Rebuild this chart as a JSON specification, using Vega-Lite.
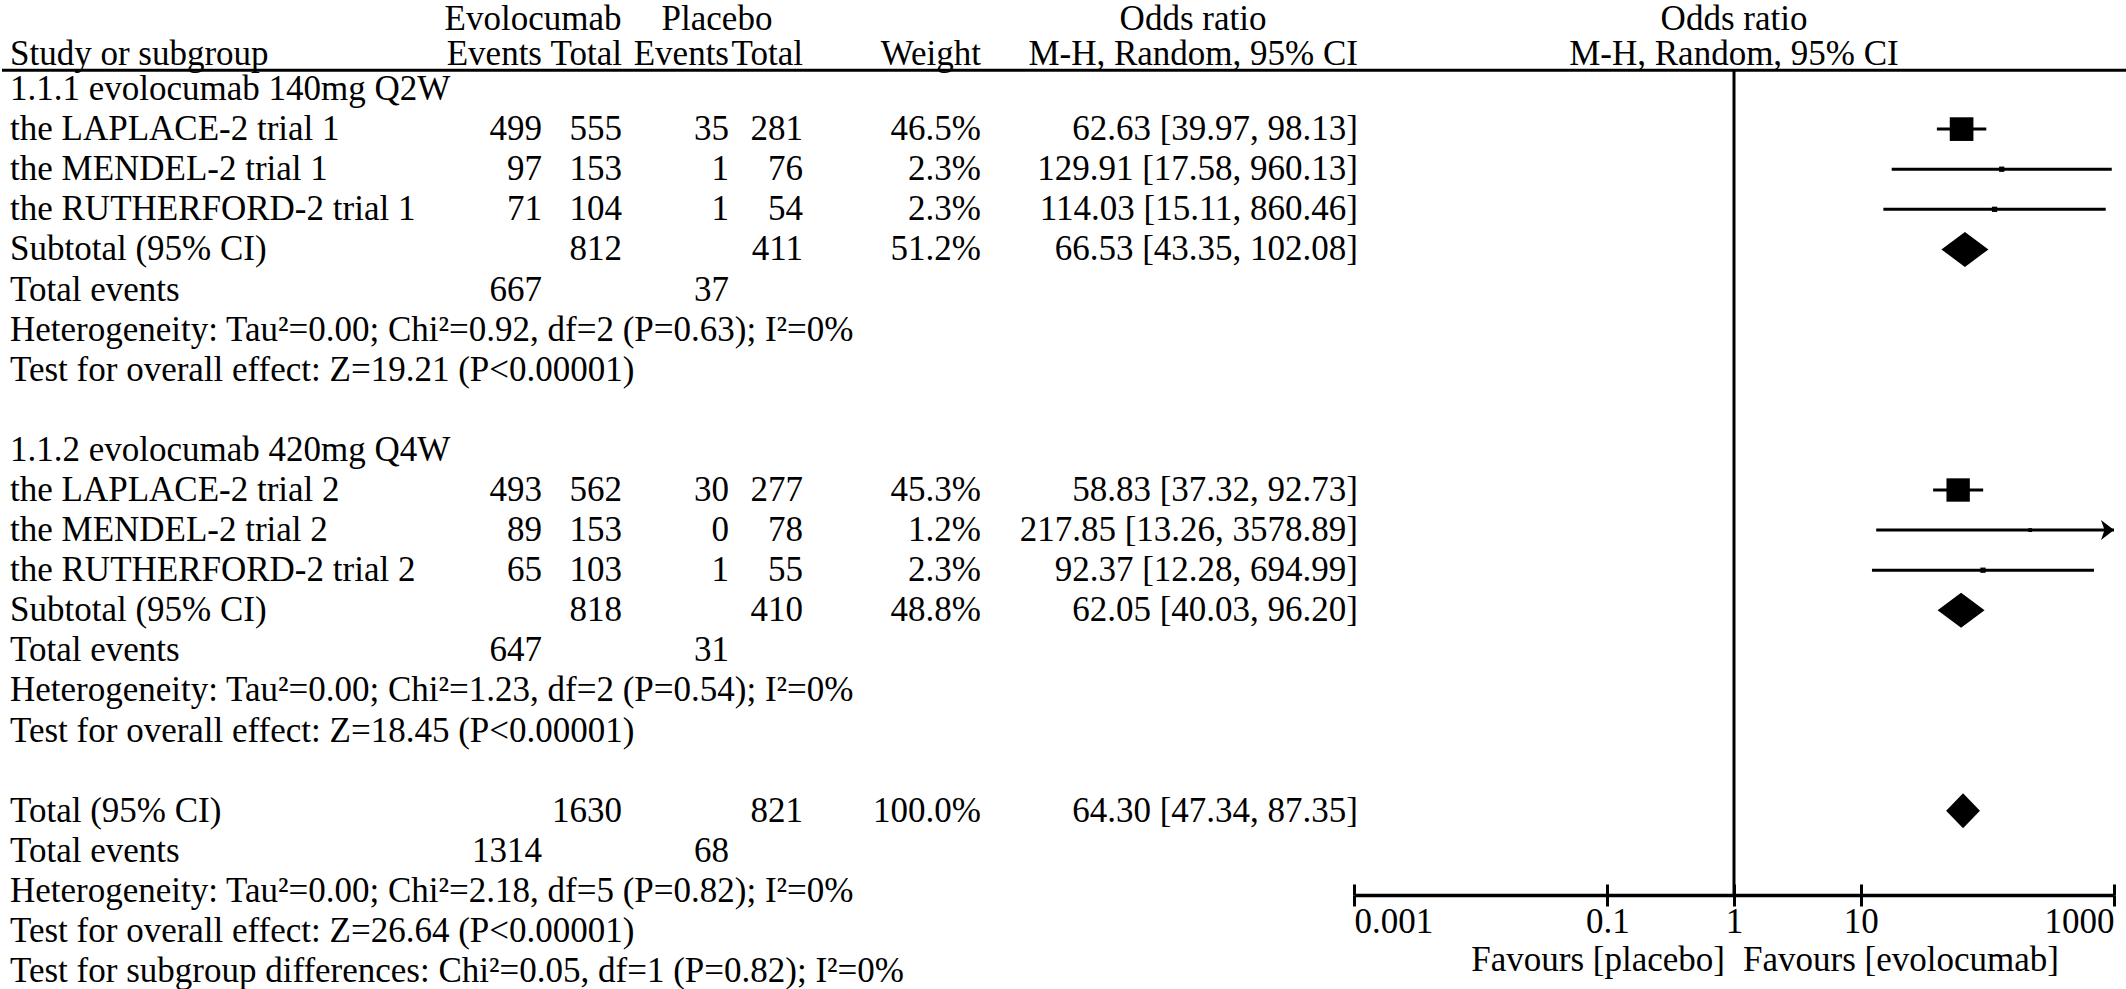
{
  "$schema": "https://vega.github.io/schema/vega-lite/v6.json",
  "width": 2126,
  "height": 895,
  "padding": 0,
  "autosize": {"type": "pad"},
  "background": "white",
  "config": {
    "view": {"stroke": null},
    "font": "Liberation Serif",
    "text": {"fontSize": 35, "color": "black", "baseline": "middle"},
    "axis": {"labelFontSize": 35, "titleFontSize": 35, "titleFontWeight": "normal", "labelColor": "black", "titleColor": "black", "tickColor": "black", "domainColor": "black", "grid": false}
  },
  "datasets": {
    "rows": [
      {"row": 0, "label": "1.1.1 evolocumab 140mg Q2W"},
      {"row": 1, "label": "the LAPLACE-2 trial 1", "ev1": 499, "tot1": 555, "ev2": 35, "tot2": 281, "w": 0.465, "ci": "62.63 [39.97, 98.13]", "or": 62.63, "lo": 39.97, "hi": 98.13, "kind": "study"},
      {"row": 2, "label": "the MENDEL-2 trial 1", "ev1": 97, "tot1": 153, "ev2": 1, "tot2": 76, "w": 0.023, "ci": "129.91 [17.58, 960.13]", "or": 129.91, "lo": 17.58, "hi": 960.13, "kind": "study"},
      {"row": 3, "label": "the RUTHERFORD-2 trial 1", "ev1": 71, "tot1": 104, "ev2": 1, "tot2": 54, "w": 0.023, "ci": "114.03 [15.11, 860.46]", "or": 114.03, "lo": 15.11, "hi": 860.46, "kind": "study"},
      {"row": 4, "label": "Subtotal (95% CI)", "tot1": 812, "tot2": 411, "w": 0.512, "ci": "66.53 [43.35, 102.08]", "or": 66.53, "lo": 43.35, "hi": 102.08, "kind": "subtotal"},
      {"row": 5, "label": "Total events", "ev1": 667, "ev2": 37},
      {"row": 6, "label": "Heterogeneity: Tau²=0.00; Chi²=0.92, df=2 (P=0.63); I²=0%"},
      {"row": 7, "label": "Test for overall effect: Z=19.21 (P<0.00001)"},
      {"row": 9, "label": "1.1.2 evolocumab 420mg Q4W"},
      {"row": 10, "label": "the LAPLACE-2 trial 2", "ev1": 493, "tot1": 562, "ev2": 30, "tot2": 277, "w": 0.453, "ci": "58.83 [37.32, 92.73]", "or": 58.83, "lo": 37.32, "hi": 92.73, "kind": "study"},
      {"row": 11, "label": "the MENDEL-2 trial 2", "ev1": 89, "tot1": 153, "ev2": 0, "tot2": 78, "w": 0.012, "ci": "217.85 [13.26, 3578.89]", "or": 217.85, "lo": 13.26, "hi": 3578.89, "kind": "study"},
      {"row": 12, "label": "the RUTHERFORD-2 trial 2", "ev1": 65, "tot1": 103, "ev2": 1, "tot2": 55, "w": 0.023, "ci": "92.37 [12.28, 694.99]", "or": 92.37, "lo": 12.28, "hi": 694.99, "kind": "study"},
      {"row": 13, "label": "Subtotal (95% CI)", "tot1": 818, "tot2": 410, "w": 0.488, "ci": "62.05 [40.03, 96.20]", "or": 62.05, "lo": 40.03, "hi": 96.20, "kind": "subtotal"},
      {"row": 14, "label": "Total events", "ev1": 647, "ev2": 31},
      {"row": 15, "label": "Heterogeneity: Tau²=0.00; Chi²=1.23, df=2 (P=0.54); I²=0%"},
      {"row": 16, "label": "Test for overall effect: Z=18.45 (P<0.00001)"},
      {"row": 18, "label": "Total (95% CI)", "tot1": 1630, "tot2": 821, "w": 1.0, "ci": "64.30 [47.34, 87.35]", "or": 64.30, "lo": 47.34, "hi": 87.35, "kind": "total"},
      {"row": 19, "label": "Total events", "ev1": 1314, "ev2": 68},
      {"row": 20, "label": "Heterogeneity: Tau²=0.00; Chi²=2.18, df=5 (P=0.82); I²=0%"},
      {"row": 21, "label": "Test for overall effect: Z=26.64 (P<0.00001)"},
      {"row": 22, "label": "Test for subgroup differences: Chi²=0.05, df=1 (P=0.82); I²=0%"}
    ],
    "headers": [
      {"row": -2, "text": "Evolocumab", "hcol": 2},
      {"row": -2, "text": "Placebo", "hcol": 5},
      {"row": -2, "text": "Odds ratio", "hcol": 9},
      {"row": -1, "text": "Study or subgroup", "hcol": 1},
      {"row": -1, "text": "Events", "hcol": 3},
      {"row": -1, "text": "Total", "hcol": 4},
      {"row": -1, "text": "Events", "hcol": 6},
      {"row": -1, "text": "Total", "hcol": 7},
      {"row": -1, "text": "Weight", "hcol": 8},
      {"row": -1, "text": "M-H, Random, 95% CI", "hcol": 10}
    ],
    "plotHeaders": [
      {"row": -2, "text": "Odds ratio"},
      {"row": -1, "text": "M-H, Random, 95% CI"}
    ],
    "favours": [
      {"side": "placebo", "text": "Favours [placebo]"},
      {"side": "evolocumab", "text": "Favours [evolocumab]"}
    ]
  },
  "resolve": {"scale": {"x": "independent"}},
  "layer": [
    {
      "layer": [
        {
          "data": {"name": "rows"},
          "mark": {"type": "text", "align": "left"},
          "encoding": {
            "x": {"datum": 1, "type": "quantitative", "scale": {"domain": [0,1,2,3,4,5,6,7,8,9,10,11], "range": [0,8,531,540,620,715,727,801,979,1191,1356,2126], "nice": false, "zero": false}, "axis": null},
            "y": {"field": "row", "type": "quantitative", "scale": {"domain": [-2.22, 20.1], "reverse": true, "nice": false, "zero": false}, "axis": null},
            "text": {"field": "label", "type": "nominal"}
          }
        },
        {
          "data": {"name": "rows"},
          "transform": [{"filter": "datum.ev1 != null"}],
          "mark": {"type": "text", "align": "right"},
          "encoding": {
            "x": {"datum": 3, "type": "quantitative", "scale": {"domain": [0,1,2,3,4,5,6,7,8,9,10,11], "range": [0,8,531,540,620,715,727,801,979,1191,1356,2126], "nice": false, "zero": false}, "axis": null},
            "y": {"field": "row", "type": "quantitative", "scale": {"domain": [-2.22, 20.1], "reverse": true, "nice": false, "zero": false}, "axis": null},
            "text": {"field": "ev1", "type": "quantitative", "format": "d"}
          }
        },
        {
          "data": {"name": "rows"},
          "transform": [{"filter": "datum.tot1 != null"}],
          "mark": {"type": "text", "align": "right"},
          "encoding": {
            "x": {"datum": 4, "type": "quantitative", "scale": {"domain": [0,1,2,3,4,5,6,7,8,9,10,11], "range": [0,8,531,540,620,715,727,801,979,1191,1356,2126], "nice": false, "zero": false}, "axis": null},
            "y": {"field": "row", "type": "quantitative", "scale": {"domain": [-2.22, 20.1], "reverse": true, "nice": false, "zero": false}, "axis": null},
            "text": {"field": "tot1", "type": "quantitative", "format": "d"}
          }
        },
        {
          "data": {"name": "rows"},
          "transform": [{"filter": "datum.ev2 != null"}],
          "mark": {"type": "text", "align": "right"},
          "encoding": {
            "x": {"datum": 6, "type": "quantitative", "scale": {"domain": [0,1,2,3,4,5,6,7,8,9,10,11], "range": [0,8,531,540,620,715,727,801,979,1191,1356,2126], "nice": false, "zero": false}, "axis": null},
            "y": {"field": "row", "type": "quantitative", "scale": {"domain": [-2.22, 20.1], "reverse": true, "nice": false, "zero": false}, "axis": null},
            "text": {"field": "ev2", "type": "quantitative", "format": "d"}
          }
        },
        {
          "data": {"name": "rows"},
          "transform": [{"filter": "datum.tot2 != null"}],
          "mark": {"type": "text", "align": "right"},
          "encoding": {
            "x": {"datum": 7, "type": "quantitative", "scale": {"domain": [0,1,2,3,4,5,6,7,8,9,10,11], "range": [0,8,531,540,620,715,727,801,979,1191,1356,2126], "nice": false, "zero": false}, "axis": null},
            "y": {"field": "row", "type": "quantitative", "scale": {"domain": [-2.22, 20.1], "reverse": true, "nice": false, "zero": false}, "axis": null},
            "text": {"field": "tot2", "type": "quantitative", "format": "d"}
          }
        },
        {
          "data": {"name": "rows"},
          "transform": [{"filter": "datum.w != null"}],
          "mark": {"type": "text", "align": "right"},
          "encoding": {
            "x": {"datum": 8, "type": "quantitative", "scale": {"domain": [0,1,2,3,4,5,6,7,8,9,10,11], "range": [0,8,531,540,620,715,727,801,979,1191,1356,2126], "nice": false, "zero": false}, "axis": null},
            "y": {"field": "row", "type": "quantitative", "scale": {"domain": [-2.22, 20.1], "reverse": true, "nice": false, "zero": false}, "axis": null},
            "text": {"field": "w", "type": "quantitative", "format": ".1%"}
          }
        },
        {
          "data": {"name": "rows"},
          "transform": [{"filter": "datum.ci != null"}],
          "mark": {"type": "text", "align": "right"},
          "encoding": {
            "x": {"datum": 10, "type": "quantitative", "scale": {"domain": [0,1,2,3,4,5,6,7,8,9,10,11], "range": [0,8,531,540,620,715,727,801,979,1191,1356,2126], "nice": false, "zero": false}, "axis": null},
            "y": {"field": "row", "type": "quantitative", "scale": {"domain": [-2.22, 20.1], "reverse": true, "nice": false, "zero": false}, "axis": null},
            "text": {"field": "ci", "type": "nominal"}
          }
        },
        {
          "data": {"name": "headers"},
          "transform": [{"filter": "datum.hcol == 1"}],
          "mark": {"type": "text", "align": "left", "dy": 5},
          "encoding": {
            "x": {"field": "hcol", "type": "quantitative", "scale": {"domain": [0,1,2,3,4,5,6,7,8,9,10,11], "range": [0,8,531,540,620,715,727,801,979,1191,1356,2126], "nice": false, "zero": false}, "axis": null},
            "y": {"field": "row", "type": "quantitative", "scale": {"domain": [-2.22, 20.1], "reverse": true, "nice": false, "zero": false}, "axis": null},
            "text": {"field": "text", "type": "nominal"}
          }
        },
        {
          "data": {"name": "headers"},
          "transform": [{"filter": "datum.hcol == 2 || datum.hcol == 5 || datum.hcol == 9"}],
          "mark": {"type": "text", "align": "center", "dy": 10},
          "encoding": {
            "x": {"field": "hcol", "type": "quantitative", "scale": {"domain": [0,1,2,3,4,5,6,7,8,9,10,11], "range": [0,8,531,540,620,715,727,801,979,1191,1356,2126], "nice": false, "zero": false}, "axis": null},
            "y": {"field": "row", "type": "quantitative", "scale": {"domain": [-2.22, 20.1], "reverse": true, "nice": false, "zero": false}, "axis": null},
            "text": {"field": "text", "type": "nominal"}
          }
        },
        {
          "data": {"name": "headers"},
          "transform": [{"filter": "datum.hcol == 3 || datum.hcol == 4 || datum.hcol == 6 || datum.hcol == 7 || datum.hcol == 8 || datum.hcol == 10"}],
          "mark": {"type": "text", "align": "right", "dy": 5},
          "encoding": {
            "x": {"field": "hcol", "type": "quantitative", "scale": {"domain": [0,1,2,3,4,5,6,7,8,9,10,11], "range": [0,8,531,540,620,715,727,801,979,1191,1356,2126], "nice": false, "zero": false}, "axis": null},
            "y": {"field": "row", "type": "quantitative", "scale": {"domain": [-2.22, 20.1], "reverse": true, "nice": false, "zero": false}, "axis": null},
            "text": {"field": "text", "type": "nominal"}
          }
        },
        {
          "data": {"values": [{}]},
          "mark": {"type": "rule", "color": "black", "strokeWidth": 3},
          "encoding": {
            "y": {"datum": -0.47, "type": "quantitative", "scale": {"domain": [-2.22, 20.1], "reverse": true, "nice": false, "zero": false}, "axis": null}
          }
        }
      ]
    },
    {
      "resolve": {"axis": {"x": "independent"}},
      "layer": [
        {
          "data": {"values": [{}]},
          "mark": {"type": "rule", "color": "black", "strokeWidth": 3},
          "encoding": {
            "x": {"datum": 1, "type": "quantitative", "scale": {"type": "log", "domain": [0.001, 1000], "range": [1352, 2112], "clamp": true, "nice": false},
              "axis": {"orient": "bottom", "values": [0.001, 0.1, 1, 10, 1000], "labelExpr": "format(datum.value, '~g')", "labelFlush": true, "labelPadding": -2, "tickSize": 11, "tickWidth": 3, "domainWidth": 3.5, "title": null}},
            "y": {"datum": -0.47, "type": "quantitative", "scale": {"domain": [-2.22, 20.1], "reverse": true, "nice": false, "zero": false}, "axis": null},
            "y2": {"datum": 20.1}
          }
        },
        {
          "data": {"name": "rows"},
          "transform": [{"filter": "datum.kind == 'study'"}],
          "mark": {"type": "rule", "color": "black", "strokeWidth": 3},
          "encoding": {
            "x": {"field": "lo", "type": "quantitative", "scale": {"type": "log", "domain": [0.001, 1000], "range": [1352, 2112], "clamp": true, "nice": false},
              "axis": {"orient": "bottom", "values": [0.001, 0.1, 1, 10, 1000], "labels": false, "domain": false, "tickSize": -11, "tickWidth": 3, "title": null}},
            "x2": {"field": "hi"},
            "y": {"field": "row", "type": "quantitative", "scale": {"domain": [-2.22, 20.1], "reverse": true, "nice": false, "zero": false}, "axis": null}
          }
        },
        {
          "data": {"name": "rows"},
          "transform": [{"filter": "datum.kind == 'study'"}],
          "mark": {"type": "point", "shape": "square", "filled": true, "color": "black", "opacity": 1, "strokeWidth": 0},
          "encoding": {
            "x": {"field": "or", "type": "quantitative", "scale": {"type": "log", "domain": [0.001, 1000], "range": [1352, 2112], "clamp": true, "nice": false}, "axis": null},
            "y": {"field": "row", "type": "quantitative", "scale": {"domain": [-2.22, 20.1], "reverse": true, "nice": false, "zero": false}, "axis": null},
            "size": {"field": "w", "type": "quantitative", "scale": {"domain": [0, 0.465], "range": [0, 560]}, "legend": null}
          }
        },
        {
          "data": {"name": "rows"},
          "transform": [{"filter": "datum.kind == 'study' && datum.hi > 1000"}],
          "mark": {"type": "point", "shape": "M-1.3,-1L0,0L-1.3,1L-0.95,0Z", "size": 400, "filled": true, "color": "black", "opacity": 1, "strokeWidth": 0},
          "encoding": {
            "x": {"field": "hi", "type": "quantitative", "scale": {"type": "log", "domain": [0.001, 1000], "range": [1352, 2112], "clamp": true, "nice": false}, "axis": null},
            "y": {"field": "row", "type": "quantitative", "scale": {"domain": [-2.22, 20.1], "reverse": true, "nice": false, "zero": false}, "axis": null}
          }
        },
        {
          "data": {"name": "rows"},
          "transform": [{"filter": "datum.kind == 'subtotal'"}],
          "mark": {"type": "point", "shape": "M-1,0L0,-0.745L1,0L0,0.745Z", "size": 2209, "filled": true, "color": "black", "opacity": 1, "strokeWidth": 0},
          "encoding": {
            "x": {"field": "or", "type": "quantitative", "scale": {"type": "log", "domain": [0.001, 1000], "range": [1352, 2112], "clamp": true, "nice": false}, "axis": null},
            "y": {"field": "row", "type": "quantitative", "scale": {"domain": [-2.22, 20.1], "reverse": true, "nice": false, "zero": false}, "axis": null}
          }
        },
        {
          "data": {"name": "rows"},
          "transform": [{"filter": "datum.kind == 'total'"}],
          "mark": {"type": "point", "shape": "M-0.966,0L0,-1L0.966,0L0,1Z", "size": 1225, "filled": true, "color": "black", "opacity": 1, "strokeWidth": 0},
          "encoding": {
            "x": {"field": "or", "type": "quantitative", "scale": {"type": "log", "domain": [0.001, 1000], "range": [1352, 2112], "clamp": true, "nice": false}, "axis": null},
            "y": {"field": "row", "type": "quantitative", "scale": {"domain": [-2.22, 20.1], "reverse": true, "nice": false, "zero": false}, "axis": null}
          }
        },
        {
          "data": {"name": "plotHeaders"},
          "transform": [{"filter": "datum.row == -2"}],
          "mark": {"type": "text", "align": "center", "dy": 10},
          "encoding": {
            "x": {"datum": 1, "type": "quantitative", "scale": {"type": "log", "domain": [0.001, 1000], "range": [1352, 2112], "clamp": true, "nice": false}, "axis": null},
            "y": {"field": "row", "type": "quantitative", "scale": {"domain": [-2.22, 20.1], "reverse": true, "nice": false, "zero": false}, "axis": null},
            "text": {"field": "text", "type": "nominal"}
          }
        },
        {
          "data": {"name": "plotHeaders"},
          "transform": [{"filter": "datum.row == -1"}],
          "mark": {"type": "text", "align": "center", "dy": 5},
          "encoding": {
            "x": {"datum": 1, "type": "quantitative", "scale": {"type": "log", "domain": [0.001, 1000], "range": [1352, 2112], "clamp": true, "nice": false}, "axis": null},
            "y": {"field": "row", "type": "quantitative", "scale": {"domain": [-2.22, 20.1], "reverse": true, "nice": false, "zero": false}, "axis": null},
            "text": {"field": "text", "type": "nominal"}
          }
        },
        {
          "data": {"name": "favours"},
          "transform": [{"filter": "datum.side == 'placebo'"}],
          "mark": {"type": "text", "align": "right", "dx": -9},
          "encoding": {
            "x": {"datum": 1, "type": "quantitative", "scale": {"type": "log", "domain": [0.001, 1000], "range": [1352, 2112], "clamp": true, "nice": false}, "axis": null},
            "y": {"datum": 21.72, "type": "quantitative", "scale": {"domain": [-2.22, 20.1], "reverse": true, "nice": false, "zero": false}, "axis": null},
            "text": {"field": "text", "type": "nominal"}
          }
        },
        {
          "data": {"name": "favours"},
          "transform": [{"filter": "datum.side == 'evolocumab'"}],
          "mark": {"type": "text", "align": "left", "dx": 9},
          "encoding": {
            "x": {"datum": 1, "type": "quantitative", "scale": {"type": "log", "domain": [0.001, 1000], "range": [1352, 2112], "clamp": true, "nice": false}, "axis": null},
            "y": {"datum": 21.72, "type": "quantitative", "scale": {"domain": [-2.22, 20.1], "reverse": true, "nice": false, "zero": false}, "axis": null},
            "text": {"field": "text", "type": "nominal"}
          }
        }
      ]
    }
  ]
}
